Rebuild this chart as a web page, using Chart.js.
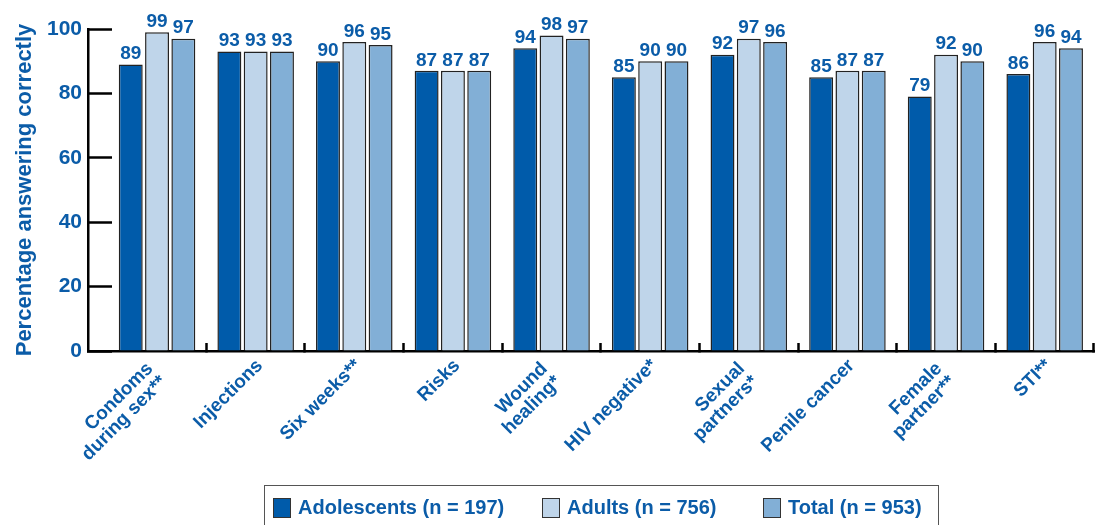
<!DOCTYPE html>
<html>
<head>
<meta charset="utf-8">
<script src="https://cdn.jsdelivr.net/npm/chart.js@4.4.1/dist/chart.umd.min.js"></script>
<style>
  html, body { margin: 0; padding: 0; background: #fff; }
  #wrap { position: relative; width: 1098px; height: 525px; overflow: hidden; }
  #legend {
    position: absolute; left: 264px; top: 485px; width: 675px; height: 60px;
    border: 1.5px solid #555; box-sizing: border-box;
    font: bold 20px "Liberation Sans", Arial, sans-serif; color: #0b5ca8;
  }
  .item { position: absolute; top: 10px; display: flex; align-items: center; white-space: nowrap; }
  .sw { width: 16px; height: 18px; border: 1.5px solid #333; margin-right: 7px; }
</style>
</head>
<body>
<div id="wrap">
  <canvas id="chart" width="1098" height="525"></canvas>
  <div id="legend"></div>
</div>
<script>
// Question categories (x axis) and share answering correctly per group
const categories = [
  ["Condoms", "during sex**"], "Injections", "Six weeks**", "Risks", ["Wound", "healing*"],
  "HIV negative*", ["Sexual", "partners*"], "Penile cancer", ["Female", "partner**"], "STI**"
];
const adolescents = [89, 93, 90, 87, 94, 85, 92, 85, 79, 86];
const adults      = [99, 93, 96, 87, 98, 90, 97, 87, 92, 96];
const total       = [97, 93, 95, 87, 97, 90, 96, 87, 90, 94];
const yTicks = [0, 20, 40, 60, 80, 100];
const seriesNames = ["Adolescents (n = 197)", "Adults (n = 756)", "Total (n = 953)"];
const seriesColors = ["#005baa", "#bfd5ea", "#82afd6"];

const BLUE = "#0b5ca8";
const FONT = '"Liberation Sans", Arial, sans-serif';
const X_MIN = -0.7, X_MAX = 9.5;

const toPoints = vals => vals.map((v, i) => ({ x: i, y: v }));
const seriesValues = [adolescents, adults, total];
const categoryTicks = s => { s.ticks = categories.map((_, i) => ({ value: i })); };
const isTwoLine = i => Array.isArray(categories[i]);
const tickFont = { family: FONT, size: 19, weight: "bold", lineHeight: 1.0 };

// Numbers printed above each bar
const valueLabels = {
  id: "valueLabels",
  afterDatasetsDraw(chart) {
    const { ctx } = chart;
    ctx.save();
    ctx.font = "bold 19px " + FONT;
    ctx.fillStyle = BLUE;
    ctx.textAlign = "center";
    ctx.textBaseline = "bottom";
    chart.data.datasets.forEach((ds, di) => {
      chart.getDatasetMeta(di).data.forEach((bar, i) => {
        ctx.fillText(String(ds.data[i].y), bar.x, bar.y - 1);
      });
    });
    ctx.restore();
  }
};

new Chart(document.getElementById("chart"), {
  type: "bar",
  data: {
    datasets: seriesValues.map((vals, k) => ({
      label: seriesNames[k],
      data: toPoints(vals),
      backgroundColor: seriesColors[k],
      borderColor: "#222",
      borderWidth: 1.5,
      barPercentage: 0.91,
      categoryPercentage: 0.8
    }))
  },
  options: {
    responsive: false,
    animation: false,
    devicePixelRatio: 1,
    layout: { padding: { top: 29, right: 4, left: 0, bottom: 0 } },
    plugins: { legend: { display: false }, tooltip: { enabled: false } },
    scales: {
      // main axis: one-line category names, boundary ticks and the axis line
      x: {
        type: "linear",
        min: X_MIN,
        max: X_MAX,
        offset: false,
        afterBuildTicks: categoryTicks,
        afterFit: s => { s.height = 174; },
        ticks: {
          autoSkip: false,
          minRotation: 45,
          maxRotation: 45,
          padding: 13,
          labelOffset: 4,
          color: BLUE,
          font: tickFont,
          callback: (v, i) => (isTwoLine(i) ? "" : categories[i])
        },
        grid: {
          offset: true,
          drawOnChartArea: false,
          drawTicks: true,
          tickLength: -8,
          tickWidth: 2.5,
          tickColor: ctx => (ctx.index === 0 ? "rgba(0,0,0,0)" : "#000")
        },
        border: { color: "#000", width: 2.5 }
      },
      // companion axis pinned at y = 0, carrying the two-line category names
      x2: {
        type: "linear",
        axis: "x",
        position: { y: 0 },
        min: X_MIN,
        max: X_MAX,
        offset: false,
        afterBuildTicks: categoryTicks,
        ticks: {
          autoSkip: false,
          minRotation: 45,
          maxRotation: 45,
          padding: 8,
          labelOffset: -7,
          color: BLUE,
          font: tickFont,
          callback: (v, i) => (isTwoLine(i) ? categories[i] : "")
        },
        grid: { display: false, drawTicks: false },
        border: { display: false }
      },
      y: {
        min: 0,
        max: 100,
        afterBuildTicks: s => { s.ticks = yTicks.map(v => ({ value: v })); },
        afterFit: s => { s.width = 88; s.paddingTop = 10; s.paddingBottom = 10; },
        ticks: {
          padding: 30,
          color: BLUE,
          font: { family: FONT, size: 21, weight: "bold" }
        },
        grid: {
          drawOnChartArea: false,
          tickLength: -24,
          tickWidth: 2.5,
          tickColor: "#000"
        },
        border: { color: "#000", width: 2.5 },
        title: {
          display: true,
          text: "Percentage answering correctly",
          color: BLUE,
          font: { family: FONT, size: 22, weight: "bold" },
          padding: { top: 12, bottom: 0 }
        }
      }
    }
  },
  plugins: [valueLabels]
});

// Legend row in a framed box under the plot
const legendLefts = [8, 277, 498];
const legend = document.getElementById("legend");
seriesNames.forEach((name, k) => {
  const item = document.createElement("div");
  item.className = "item";
  item.style.left = legendLefts[k] + "px";
  const sw = document.createElement("span");
  sw.className = "sw";
  sw.style.background = seriesColors[k];
  const txt = document.createElement("span");
  txt.textContent = name;
  item.appendChild(sw);
  item.appendChild(txt);
  legend.appendChild(item);
});
</script>
</body>
</html>
